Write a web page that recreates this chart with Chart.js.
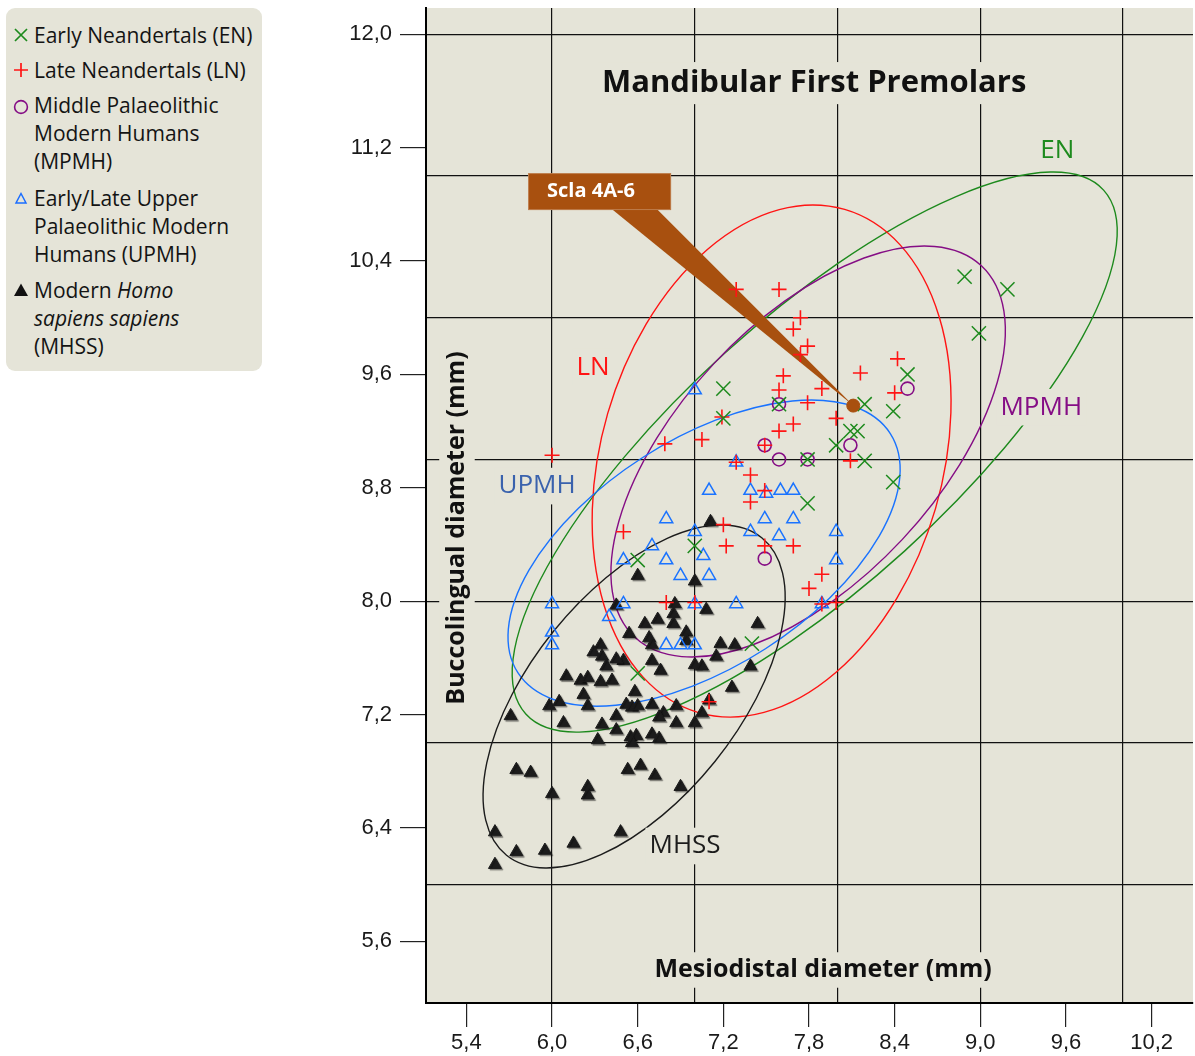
<!DOCTYPE html>
<html>
<head>
<meta charset="utf-8">
<title>Mandibular First Premolars</title>
<script src="https://cdn.jsdelivr.net/npm/chart.js@4.4.1/dist/chart.umd.min.js"></script>
<style>
  html, body { margin: 0; padding: 0; background: #ffffff; }
  #wrap { position: relative; width: 1195px; height: 1056px; overflow: hidden; }
  #c { position: absolute; left: 0; top: 0; }
  #legend {
    position: absolute; left: 6px; top: 8px; width: 256px; height: 363px;
    background: #e5e4d8; border-radius: 9px;
    font-family: 'Open Sans', 'Noto Sans', sans-serif; font-size: 21px; color: #141414;
  }
  .item { position: absolute; left: 28px; line-height: 28px; white-space: nowrap; }
  .sym { position: absolute; left: -21px; top: 6px; width: 16px; height: 16px; }
</style>
</head>
<body>
<div id="wrap">
  <canvas id="c" width="1195" height="1056"></canvas>
  <div id="legend">
    <div class="item" style="top:13px">
      <svg class="sym" viewBox="0 0 16 16"><path d="M2 2L14 14M14 2L2 14" stroke="#1d8a1d" stroke-width="1.7" fill="none"/></svg>
      Early Neandertals (EN)
    </div>
    <div class="item" style="top:48px">
      <svg class="sym" viewBox="0 0 16 16"><path d="M8 1V15M1 8H15" stroke="#ff1414" stroke-width="1.7" fill="none"/></svg>
      Late Neandertals (LN)
    </div>
    <div class="item" style="top:83px">
      <svg class="sym" style="top:8px" viewBox="0 0 16 16"><circle cx="8" cy="8" r="6.4" stroke="#850d85" stroke-width="1.6" fill="none"/></svg>
      Middle Palaeolithic<br>Modern Humans<br>(MPMH)
    </div>
    <div class="item" style="top:176px">
      <svg class="sym" style="top:7px" viewBox="0 0 16 16"><polygon points="8,2.5 13,12 3,12" stroke="#1a6dff" stroke-width="1.5" fill="none"/></svg>
      Early/Late Upper<br>Palaeolithic Modern<br>Humans (UPMH)
    </div>
    <div class="item" style="top:268px">
      <svg class="sym" viewBox="0 0 16 16"><polygon points="8,1.5 15,14 1,14" fill="#111111"/></svg>
      Modern <i>Homo</i><br><i>sapiens sapiens</i><br>(MHSS)
    </div>
  </div>
</div>
<script>
// ---- measurements (mesiodistal, buccolingual) in mm ----
const EN = [
  [7.20, 9.50], [7.20, 9.29], [7.59, 9.39], [8.19, 9.39], [8.09, 9.20],
  [8.14, 9.20], [7.99, 9.10], [8.19, 8.99], [7.79, 9.00], [8.39, 8.84],
  [7.79, 8.69], [7.00, 8.39], [6.60, 8.29], [6.60, 7.49], [7.40, 7.70],
  [8.89, 10.29], [9.19, 10.20], [8.99, 9.89], [8.49, 9.60], [8.39, 9.34]
];
const LN = [
  [6.00, 9.03], [6.79, 9.11], [7.29, 10.20], [7.59, 10.20], [7.74, 10.00],
  [7.69, 9.92], [7.79, 9.80], [7.74, 9.74], [7.62, 9.59], [7.59, 9.49],
  [7.89, 9.50], [8.16, 9.61], [7.79, 9.40], [7.99, 9.29], [7.69, 9.25],
  [7.59, 9.20], [7.05, 9.14], [7.19, 9.30], [7.49, 9.10], [8.09, 8.99],
  [8.42, 9.71], [8.40, 9.47], [7.29, 8.98], [7.39, 8.89], [7.49, 8.78],
  [7.39, 8.70], [7.20, 8.54], [6.50, 8.49], [7.22, 8.39], [7.49, 8.39],
  [7.69, 8.39], [7.89, 8.19], [7.80, 8.09], [6.80, 7.99], [7.00, 7.99],
  [7.89, 7.98], [7.99, 7.99], [7.10, 7.29]
];
const MPMH = [
  [7.59, 9.39], [7.49, 9.10], [8.09, 9.10], [7.59, 9.00], [7.79, 9.00],
  [8.49, 9.50], [7.49, 8.30]
];
const UPMH = [
  [7.00, 9.49], [7.29, 8.98], [7.10, 8.78], [7.39, 8.78], [7.50, 8.76],
  [7.60, 8.78], [7.69, 8.78], [6.80, 8.58], [7.49, 8.58], [7.69, 8.58],
  [7.00, 8.49], [7.39, 8.49], [7.59, 8.46], [6.70, 8.39], [7.06, 8.32],
  [6.80, 8.29], [6.90, 8.18], [7.10, 8.18], [6.50, 8.29], [7.99, 8.49],
  [7.99, 8.29], [7.89, 7.98], [6.00, 7.98], [6.50, 7.98], [7.00, 7.98],
  [7.29, 7.98], [6.40, 7.89], [6.00, 7.78], [6.00, 7.69], [6.80, 7.69],
  [6.90, 7.69], [7.00, 7.69]
];
const MHSS = [
  [7.11, 8.56], [6.60, 8.18], [7.00, 8.14], [6.45, 7.97], [6.86, 7.98],
  [7.08, 7.94], [6.85, 7.91], [6.85, 7.84], [6.65, 7.84], [6.74, 7.87],
  [6.94, 7.78], [7.44, 7.84], [6.68, 7.74], [6.94, 7.72], [6.54, 7.77],
  [6.70, 7.69], [7.18, 7.70], [7.28, 7.69], [7.15, 7.61], [7.00, 7.55],
  [7.05, 7.54], [6.70, 7.58], [6.76, 7.51], [6.50, 7.58], [7.39, 7.54],
  [7.26, 7.39], [7.10, 7.30], [6.58, 7.36], [6.52, 7.27], [6.56, 7.25],
  [6.60, 7.26], [6.70, 7.27], [6.87, 7.26], [6.78, 7.21], [6.75, 7.18],
  [7.05, 7.21], [6.87, 7.14], [7.00, 7.14], [6.55, 7.04], [6.59, 7.05],
  [6.56, 7.00], [6.70, 7.06], [6.75, 7.03], [6.53, 6.81], [6.62, 6.84],
  [6.72, 6.77], [6.90, 6.69], [6.34, 7.69], [6.29, 7.64], [6.35, 7.61],
  [6.45, 7.59], [6.38, 7.54], [6.10, 7.47], [6.20, 7.44], [6.25, 7.46],
  [6.34, 7.43], [6.42, 7.44], [6.22, 7.34], [6.25, 7.26], [5.98, 7.26],
  [6.05, 7.29], [5.71, 7.19], [6.08, 7.14], [6.35, 7.13], [6.45, 7.19],
  [6.45, 7.09], [6.32, 7.02], [5.75, 6.81], [5.85, 6.79], [6.00, 6.64],
  [6.25, 6.69], [6.25, 6.63], [5.60, 6.37], [5.75, 6.23], [5.95, 6.24],
  [6.15, 6.29], [6.48, 6.37], [5.60, 6.14]
];
const SCLA_4A_6 = [[8.11, 9.38]];

// ---- group ellipses: centre (mm), semi-axes (mm), tilt (degrees) ----
const ELLIPSE_EN   = { cx: 7.840, cy: 9.052, a: 2.742, b: 0.940, angle: 42.2 };
const ELLIPSE_LN   = { cx: 7.538, cy: 8.989, a: 1.842, b: 1.200, angle: 73.8 };
const ELLIPSE_MPMH = { cx: 7.794, cy: 9.056, a: 1.786, b: 0.906, angle: 47.0 };
const ELLIPSE_UPMH = { cx: 7.065, cy: 8.339, a: 1.556, b: 0.799, angle: 32.7 };
const ELLIPSE_MHSS = { cx: 6.575, cy: 7.327, a: 1.432, b: 0.729, angle: 51.2 };

// ---- axes ----
const X_MIN = 5.117, X_MAX = 10.49;
const Y_MIN = 5.164, Y_MAX = 12.186;
const X_TICK_LABELS = [5.4, 6.0, 6.6, 7.2, 7.8, 8.4, 9.0, 9.6, 10.2];
const X_GRID = [6, 7, 8, 9, 10];
const Y_TICK_LABELS = [5.6, 6.4, 7.2, 8.0, 8.8, 9.6, 10.4, 11.2, 12.0];
const Y_GRID = [6, 7, 8, 9, 10, 11, 12];

// ---- colours ----
const PLOT_BG = '#e5e4d8';
const C_EN = '#1d8a1d', C_LN = '#ff1414', C_MPMH = '#850d85';
const C_UPMH = '#1a73ff', C_UPMH_TEXT = '#3a62ad', C_MHSS = '#1c1c1c';
const C_BROWN = '#a8500f';

const ELLIPSES = [
  { e: ELLIPSE_EN, color: C_EN },
  { e: ELLIPSE_LN, color: C_LN },
  { e: ELLIPSE_MPMH, color: C_MPMH },
  { e: ELLIPSE_UPMH, color: C_UPMH },
  { e: ELLIPSE_MHSS, color: C_MHSS }
];

// text placed in data coordinates
const GROUP_LABELS = [
  { text: 'EN',   x: 9.539, y: 11.183, color: C_EN },
  { text: 'LN',   x: 6.287, y: 9.651,  color: C_LN },
  { text: 'MPMH', x: 9.427, y: 9.369,  color: C_MPMH },
  { text: 'UPMH', x: 5.895, y: 8.812,  color: C_UPMH_TEXT },
  { text: 'MHSS', x: 6.932, y: 6.272,  color: C_MHSS }
];
const TITLE = { text: 'Mandibular First Premolars', x: 7.836, y: 11.656 };
const X_TITLE = { text: 'Mesiodistal diameter (mm)', x: 7.899, y: 5.397 };
const Y_TITLE = { text: 'Buccolingual diameter (mm)', x: 5.334, y: 8.516 };
const CALLOUT = { text: 'Scla 4A-6', x0: 5.832, x1: 6.834, y0: 11.021, y1: 10.760, base0: 6.418, base1: 6.734 };

const toPts = arr => arr.map(p => ({ x: p[0], y: p[1] }));
const has = (list, v) => list.some(t => Math.abs(t - v) < 1e-6);
const fmt = v => v.toFixed(1).replace('.', ',');

function unionTicks(a, b) {
  const all = a.concat(b).slice().sort((p, q) => p - q);
  const out = [];
  all.forEach(v => { if (!out.some(o => Math.abs(o - v) < 1e-6)) out.push(v); });
  return out.map(v => ({ value: v }));
}

// fixed axis box sizes; the plot area keeps its own edges
function fixBox(s, key, size) {
  s[key] = size;
  s.paddingTop = 0; s.paddingBottom = 0; s.paddingLeft = 0; s.paddingRight = 0;
}

function maskedText(ctx, text, px, py, font, color, pad, rotate) {
  ctx.save();
  ctx.translate(px, py);
  if (rotate) ctx.rotate(-Math.PI / 2);
  ctx.font = font;
  const size = parseFloat(font.match(/([\d.]+)px/)[1]);
  const w = ctx.measureText(text).width;
  ctx.fillStyle = PLOT_BG;
  ctx.fillRect(-w / 2 - pad, -size * 0.55 - pad, w + 2 * pad, size * 1.1 + 2 * pad);
  ctx.fillStyle = color;
  ctx.textAlign = 'center';
  ctx.textBaseline = 'middle';
  ctx.fillText(text, 0, 0);
  ctx.restore();
}

const plotBackground = {
  id: 'plotBackground',
  beforeDraw(chart) {
    const { ctx, chartArea: a } = chart;
    ctx.save();
    ctx.fillStyle = PLOT_BG;
    ctx.fillRect(a.left, a.top, a.right - a.left, a.bottom - a.top);
    ctx.restore();
  }
};

const overlays = {
  id: 'overlays',
  beforeDatasetsDraw(chart) {
    const { ctx, chartArea: a, scales: { x, y } } = chart;
    const ppx = Math.abs(x.getPixelForValue(1) - x.getPixelForValue(0));
    const ppy = Math.abs(y.getPixelForValue(1) - y.getPixelForValue(0));
    const k = (ppx + ppy) / 2;
    ctx.save();
    ctx.beginPath();
    ctx.rect(a.left, a.top, a.right - a.left, a.bottom - a.top);
    ctx.clip();

    // group ellipses
    ELLIPSES.forEach(({ e, color }) => {
      ctx.beginPath();
      ctx.ellipse(x.getPixelForValue(e.cx), y.getPixelForValue(e.cy), e.a * k, e.b * k,
        -e.angle * Math.PI / 180, 0, Math.PI * 2);
      ctx.strokeStyle = color;
      ctx.lineWidth = 1.4;
      ctx.stroke();
    });

    // titles and group labels
    maskedText(ctx, TITLE.text, x.getPixelForValue(TITLE.x), y.getPixelForValue(TITLE.y),
      "bold 31px 'Open Sans', sans-serif", '#111111', 4, false);
    maskedText(ctx, X_TITLE.text, x.getPixelForValue(X_TITLE.x), y.getPixelForValue(X_TITLE.y),
      "bold 25px 'Open Sans', sans-serif", '#111111', 4, false);
    maskedText(ctx, Y_TITLE.text, x.getPixelForValue(Y_TITLE.x), y.getPixelForValue(Y_TITLE.y),
      "bold 25px 'Open Sans', sans-serif", '#111111', 4, true);
    GROUP_LABELS.forEach(l => {
      maskedText(ctx, l.text, x.getPixelForValue(l.x), y.getPixelForValue(l.y),
        "26px 'Open Sans', sans-serif", l.color, 4, false);
    });

    // callout for Scla 4A-6
    const bx0 = x.getPixelForValue(CALLOUT.x0), bx1 = x.getPixelForValue(CALLOUT.x1);
    const by0 = y.getPixelForValue(CALLOUT.y0), by1 = y.getPixelForValue(CALLOUT.y1);
    const tx = x.getPixelForValue(SCLA_4A_6[0][0]), ty = y.getPixelForValue(SCLA_4A_6[0][1]);
    ctx.fillStyle = C_BROWN;
    ctx.beginPath();
    ctx.moveTo(x.getPixelForValue(CALLOUT.base0), by1 - 1);
    ctx.lineTo(x.getPixelForValue(CALLOUT.base1), by1 - 1);
    ctx.lineTo(tx, ty);
    ctx.closePath();
    ctx.fill();
    ctx.fillRect(bx0, by0, bx1 - bx0, by1 - by0);
    ctx.strokeStyle = 'rgba(255,255,255,0.25)';
    ctx.lineWidth = 1;
    ctx.strokeRect(bx0 + 0.5, by0 + 0.5, bx1 - bx0 - 1, by1 - by0 - 1);
    ctx.fillStyle = '#ffffff';
    ctx.font = "bold 20px 'Open Sans', sans-serif";
    ctx.textAlign = 'left';
    ctx.textBaseline = 'middle';
    ctx.fillText(CALLOUT.text, bx0 + 19, (by0 + by1) / 2);
    ctx.restore();
  },
  beforeDatasetDraw(chart, args) {
    if (chart.data.datasets[args.index].label === 'MHSS') {
      const ctx = chart.ctx;
      ctx.save();
      ctx.shadowColor = 'rgba(0,0,0,0.35)';
      ctx.shadowOffsetX = 1.5;
      ctx.shadowOffsetY = 1.5;
      ctx.shadowBlur = 1;
    }
  },
  afterDatasetDraw(chart, args) {
    if (chart.data.datasets[args.index].label === 'MHSS') chart.ctx.restore();
  }
};

const tickFont = { family: "'Liberation Sans', Arial, sans-serif", size: 22 };

new Chart(document.getElementById('c'), {
  type: 'scatter',
  data: {
    datasets: [
      { label: 'Scla 4A-6', data: toPts(SCLA_4A_6), pointStyle: 'circle', pointRadius: 6.5,
        backgroundColor: C_BROWN, borderColor: C_BROWN, borderWidth: 1, order: 0 },
      { label: 'EN', data: toPts(EN), pointStyle: 'crossRot', pointRadius: 10,
        borderColor: C_EN, backgroundColor: C_EN, borderWidth: 1.5, order: 1 },
      { label: 'LN', data: toPts(LN), pointStyle: 'cross', pointRadius: 7.5,
        borderColor: C_LN, backgroundColor: C_LN, borderWidth: 1.6, order: 2 },
      { label: 'MPMH', data: toPts(MPMH), pointStyle: 'circle', pointRadius: 6.5,
        borderColor: C_MPMH, backgroundColor: 'rgba(0,0,0,0)', borderWidth: 1.6, order: 3 },
      { label: 'UPMH', data: toPts(UPMH), pointStyle: 'triangle', pointRadius: 7.5,
        borderColor: C_UPMH, backgroundColor: 'rgba(0,0,0,0)', borderWidth: 1.5, order: 4 },
      { label: 'MHSS', data: toPts(MHSS), pointStyle: 'triangle', pointRadius: 7.5,
        borderColor: C_MHSS, backgroundColor: C_MHSS, borderWidth: 1, order: 5 }
    ]
  },
  options: {
    responsive: false,
    animation: false,
    devicePixelRatio: 1,
    events: [],
    layout: { autoPadding: false, padding: { top: 8, right: 2, left: 0, bottom: 0 } },
    plugins: { legend: { display: false }, tooltip: { enabled: false } },
    scales: {
      x: {
        type: 'linear', min: X_MIN, max: X_MAX, bounds: 'data',
        afterBuildTicks: s => { s.ticks = unionTicks(X_TICK_LABELS, X_GRID); },
        afterFit: s => fixBox(s, 'height', 53),
        border: { display: true, color: '#000000', width: 2 },
        grid: {
          drawTicks: true, tickLength: 24, lineWidth: 1.2,
          color: c => has(X_GRID, c.tick.value) ? '#111111' : 'rgba(0,0,0,0)',
          tickColor: c => has(X_TICK_LABELS, c.tick.value) ? '#222222' : 'rgba(0,0,0,0)'
        },
        ticks: {
          autoSkip: false, maxRotation: 0, minRotation: 0, padding: 3,
          font: tickFont, color: '#1a1a1a',
          callback: v => has(X_TICK_LABELS, v) ? fmt(v) : ''
        }
      },
      y: {
        type: 'linear', min: Y_MIN, max: Y_MAX, bounds: 'data',
        afterBuildTicks: s => { s.ticks = unionTicks(Y_TICK_LABELS, Y_GRID); },
        afterFit: s => fixBox(s, 'width', 426),
        border: { display: true, color: '#000000', width: 2 },
        grid: {
          drawTicks: true, tickLength: 26, lineWidth: 1.2,
          color: c => has(Y_GRID, c.tick.value) ? '#111111' : 'rgba(0,0,0,0)',
          tickColor: c => has(Y_TICK_LABELS, c.tick.value) ? '#222222' : 'rgba(0,0,0,0)'
        },
        ticks: {
          autoSkip: false, padding: 8,
          font: tickFont, color: '#1a1a1a',
          callback: v => has(Y_TICK_LABELS, v) ? fmt(v) : ''
        }
      }
    }
  },
  plugins: [plotBackground, overlays]
});
</script>
</body>
</html>
